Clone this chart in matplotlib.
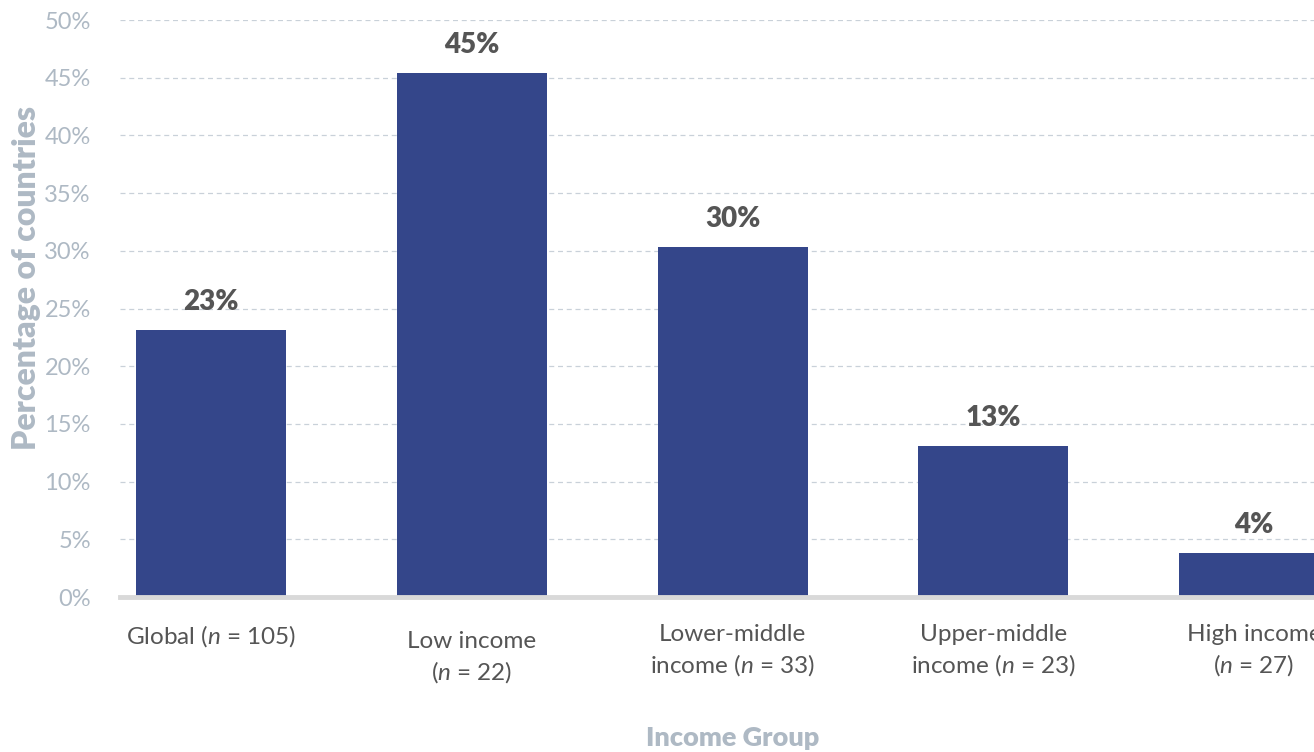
import matplotlib
matplotlib.use("Agg")
import matplotlib.pyplot as plt
import matplotlib.transforms as mtransforms

plt.rcParams['font.family'] = ['Lato', 'DejaVu Sans']
plt.rcParams['mathtext.fontset'] = 'custom'
plt.rcParams['mathtext.rm'] = 'Lato'
plt.rcParams['mathtext.it'] = 'Lato:italic'

# data
groups = ['Global ($n$ = 105)', 'Low income\n($n$ = 22)', 'Lower-middle\nincome ($n$ = 33)',
          'Upper-middle\nincome ($n$ = 23)', 'High income\n($n$ = 27)']
shares = [23.1, 45.4, 30.3, 13.1, 3.8]
yticks = [0, 5, 10, 15, 20, 25, 30, 35, 40, 45, 50]

bar_color = '#34468a'
tick_gray = '#aeb9c4'
text_dark = '#555555'

fig = plt.figure(figsize=(13.14, 7.52), dpi=100)
ax = fig.add_axes([120 / 1314, 155 / 752, 1 - 120 / 1314, 577.5 / 752])

x = list(range(len(shares)))
bars = ax.bar(x, shares, width=0.575, color=bar_color, zorder=3)

for b, v in zip(bars, shares):
    ax.annotate(f'{v:.0f}%', (b.get_x() + b.get_width() / 2, v),
                xytext=(0, 11), textcoords='offset points', ha='center', va='bottom',
                fontsize=20, fontweight='heavy', color=text_dark)

ax.set_xlim(-0.35, 4.23)
ax.set_ylim(0, 50.05)
ax.set_yticks(yticks)
ax.set_yticklabels([f'{t}%' for t in yticks])
ax.tick_params(axis='y', length=0, pad=21, labelsize=17, labelcolor=tick_gray)
ax.grid(axis='y', linestyle=(0, (4, 3)), color='#c9d1d9', linewidth=0.9, zorder=0)

# category labels, the low income one sits a little lower like the original
ax.set_xticks(x)
ax.set_xticklabels([])
ax.tick_params(axis='x', length=0)
label_drop = [0, 7, 0, 0, 0]
trans = mtransforms.blended_transform_factory(ax.transData, ax.transAxes)
for xi, lab, d in zip(x, groups, label_drop):
    ax.text(xi, -0.046, lab, ha='center', va='top', fontsize=17.5, color=text_dark,
            linespacing=1.35,
            transform=trans + mtransforms.ScaledTranslation(0, -d / 100, fig.dpi_scale_trans))

for s in ['top', 'right', 'left']:
    ax.spines[s].set_visible(False)
ax.spines['bottom'].set_color('#d9d9d9')
ax.spines['bottom'].set_linewidth(3.5)
ax.spines['bottom'].set_zorder(4)

ax.set_ylabel('Percentage of countries', fontsize=23, fontweight='heavy', color=tick_gray)
ax.yaxis.set_label_coords(-0.066, 0.553)

fig.text(733 / 1314, 1 - 738 / 752, 'Income Group', ha='center', va='center',
         fontsize=19.5, fontweight='heavy', color=tick_gray)

fig.savefig('out.png', dpi=100)
